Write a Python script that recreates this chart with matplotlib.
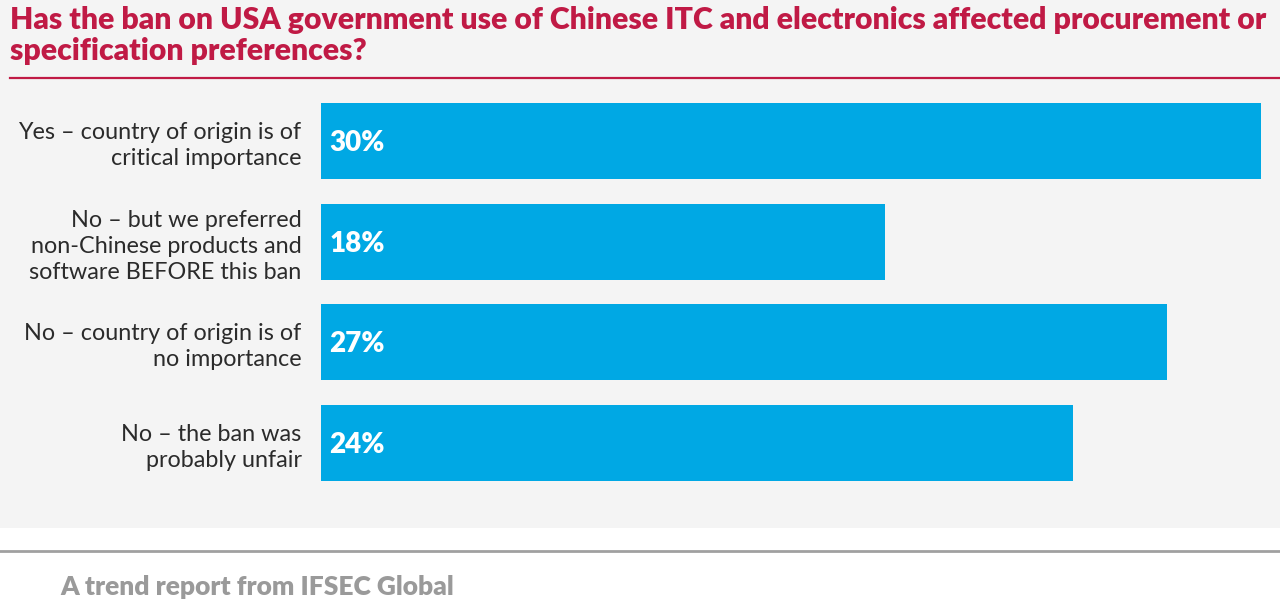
import matplotlib.pyplot as plt
from matplotlib.patches import Rectangle

categories = [
    'Yes \u2013 country of origin is of\ncritical importance',
    'No \u2013 but we preferred\nnon-Chinese products and\nsoftware BEFORE this ban',
    'No \u2013 country of origin is of\nno importance',
    'No \u2013 the ban was\nprobably unfair',
]
values = [30, 18, 27, 24]

title = ('Has the ban on USA government use of Chinese ITC and electronics affected procurement or\n'
         'specification preferences?')
footer = 'A trend report from IFSEC Global'

bar_color = '#00a8e4'
red = '#c01a45'
W, H = 1280, 606

plt.rcParams['font.family'] = ['Lato', 'DejaVu Sans']

fig = plt.figure(figsize=(W / 100, H / 100), dpi=100)
fig.patch.set_facecolor('white')

# grey panel behind the chart
fig.patches.append(Rectangle((0, 1 - 528 / H), 1, 528 / H, transform=fig.transFigure,
                             facecolor='#f4f4f4', edgecolor='none', zorder=-10))
# red rule under title, grey rule above footer
fig.add_artist(plt.Line2D([10 / W, 1], [1 - 78 / H] * 2, color=red, lw=1.6))
fig.add_artist(plt.Line2D([0, 1], [1 - 551 / H] * 2, color='#a0a0a0', lw=2))

fig.text(10 / W, 1 - 6 / H, title, ha='left', va='top', fontsize=21.7, fontweight='heavy',
         color=red, linespacing=1.15)
fig.text(60 / W, 1 - 587 / H, footer, ha='left', va='center', fontsize=19, fontweight='heavy',
         color='#9a9a9a')

ax = fig.add_axes([321 / W, 1 - 481 / H, (1261 - 321) / W, (481 - 103) / H])
ax.set_facecolor('none')
pos = list(range(len(values)))
h = 76 / 100.67
ax.barh(pos, values, height=h, color=bar_color, align='center')
ax.set_xlim(0, 30)
ax.set_ylim(3 + h / 2, -h / 2)
for p, v in zip(pos, values):
    ax.text(0.26, p + 0.02, f'{v}%', ha='left', va='center', color='white', fontsize=20,
            fontweight='heavy')
ax.set_yticks(pos)
ax.set_yticklabels(categories, fontsize=16.8, color='#2b2b2b', linespacing=1.3, ha='right')
ax.tick_params(axis='y', length=0, pad=14)
ax.set_xticks([])
for s in ax.spines.values():
    s.set_visible(False)

fig.savefig('out.png', dpi=100, facecolor=fig.get_facecolor())
